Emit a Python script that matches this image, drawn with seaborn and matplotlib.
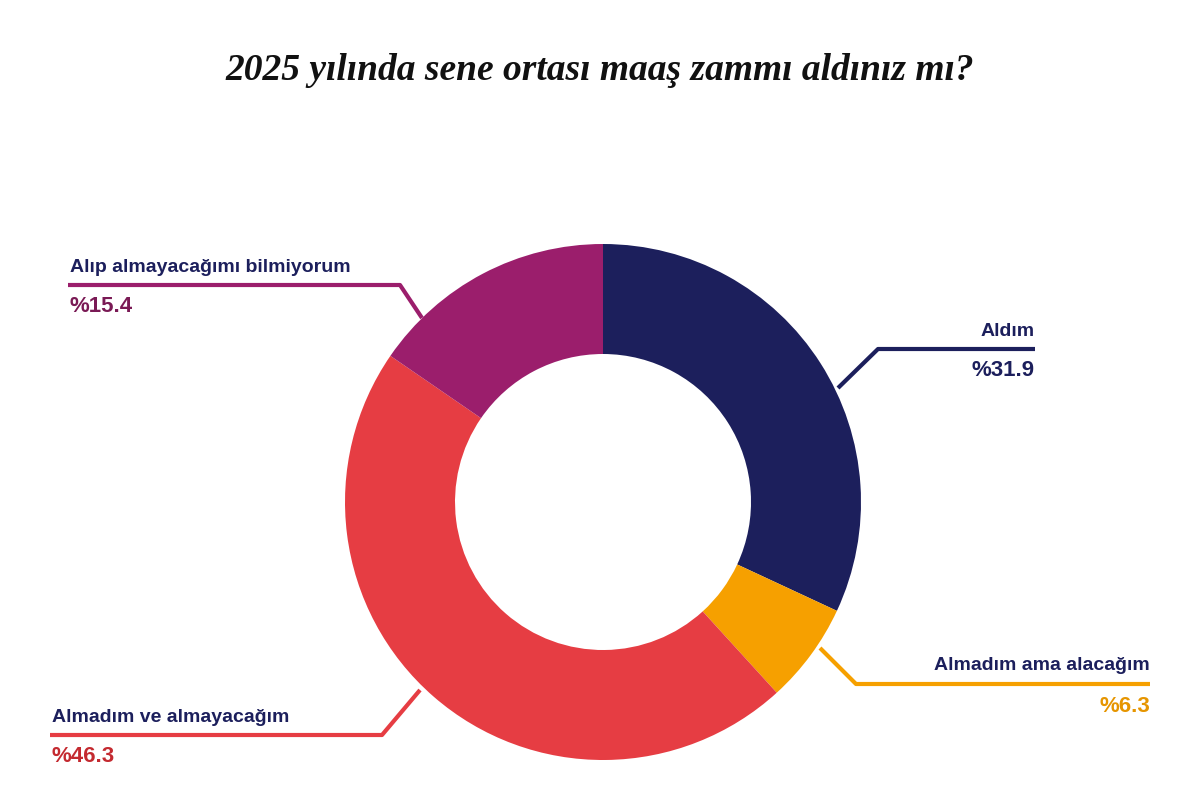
import matplotlib
matplotlib.use("Agg")
import matplotlib.pyplot as plt
import seaborn as sns

sns.set_theme(style="white")
plt.rcParams['font.family'] = ['Liberation Sans', 'DejaVu Sans']

title = "2025 yılında sene ortası maaş zammı aldınız mı?"
labels = ["Aldım", "Almadım ama alacağım", "Almadım ve almayacağım", "Alıp almayacağımı bilmiyorum"]
values = [31.9, 6.3, 46.3, 15.4]
colors = ["#1c1f5c", "#f6a000", "#e63d43", "#9b1e6c"]
text_colors = ["#1c1f5c", "#e69500", "#c42a30", "#7a1a55"]

H = 810
fig = plt.figure(figsize=(12, 8.1), dpi=100)
ax = fig.add_axes([0, 0, 1, 1])
ax.set_xlim(0, 1200)
ax.set_ylim(0, H)
ax.axis("off")

ax.pie(values, colors=colors, startangle=90, counterclock=False,
       center=(603, H - 502), radius=258,
       wedgeprops=dict(width=110, edgecolor="white", linewidth=0))
ax.set_aspect("equal")
ax.set_xlim(0, 1200)
ax.set_ylim(0, H)

# leader lines (pixel coords, top-left origin) and label anchors
leaders = [
    [(838, 388), (878, 349), (1035, 349)],
    [(820, 648), (856, 684), (1150, 684)],
    [(420, 690), (382, 735), (50, 735)],
    [(422, 318), (400, 285), (68, 285)],
]
anchors = [(1035, "right"), (1150, "right"), (52, "left"), (70, "left")]

for lab, val, pts, (x, ha), tc, c in zip(labels, values, leaders, anchors, text_colors, colors):
    xs = [p[0] for p in pts]
    ys = [H - p[1] for p in pts]
    ax.plot(xs, ys, color=c, lw=3, solid_capstyle="butt")
    ly = pts[-1][1]
    ax.text(x, H - (ly - 18), lab, ha=ha, va="center", fontsize=14,
            fontweight="bold", color="#1c1f5c" if ha == "right" or lab.startswith("Almadım") else "#1c1f5c")
    ax.text(x, H - (ly + 22), f"%{val}", ha=ha, va="center", fontsize=16,
            fontweight="bold", color=tc)

fig.text(0.5, 1 - 70 / H, title, ha="center", va="center", fontsize=27,
         fontweight="bold", fontstyle="italic",
         family=["Liberation Serif", "DejaVu Serif"], color="#111111")

fig.savefig("out.png", dpi=100, facecolor="white")
